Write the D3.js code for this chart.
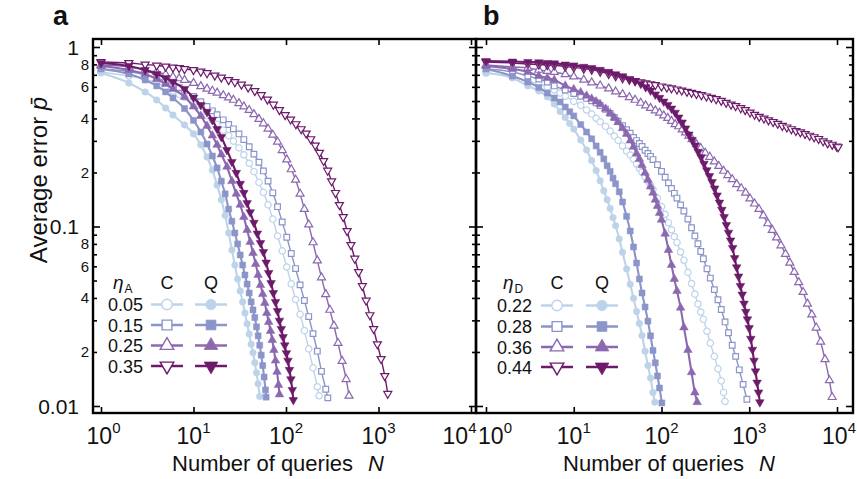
<!DOCTYPE html>
<html>
<head>
<meta charset="utf-8">
<script src="https://cdn.jsdelivr.net/npm/d3@7"></script>
<style>body{margin:0;background:#fff}</style>
</head>
<body>
<script>
// tick values
const xTicks = [1, 10, 100, 1000, 10000];
const xTickExp = ["0", "1", "2", "3", "4"];
const yMajor = [1, 0.1, 0.01];
const yMajorLabels = ["1", "0.1", "0.01"];
const yMinorLabelled = [0.8, 0.6, 0.4, 0.2, 0.08, 0.06, 0.04, 0.02];
const yMinorText = ["8", "6", "4", "2", "8", "6", "4", "2"];

// legend values
const etaA = ["0.05", "0.15", "0.25", "0.35"];
const etaD = ["0.22", "0.28", "0.36", "0.44"];

// panel a: [N, average error], classical (C) and quantum (Q)
const aC05 = [[1,.726],[2,.689],[3,.663],[4,.630],[5,.600],[6,.569],[7,.545],[8,.525],[10,.480],[12,.442],[14,.415],[16,.391],[18,.371],[21,.344],[24,.321],[27,.299],[31,.274],[35,.251],[40,.225],[45,.202],[51,.176],[57,.155],[64,.132],[72,.110],[81,.0886],[91,.0732],[102,.0595],[114,.0479],[127,.0392],[142,.0324],[158,.0263],[176,.0208],[196,.0163],[218,.0128],[228,.0114]];
const aC15 = [[1,.754],[2,.730],[3,.700],[4,.672],[5,.643],[6,.617],[7,.594],[8,.574],[10,.531],[12,.496],[14,.466],[16,.441],[18,.420],[21,.393],[24,.370],[27,.350],[31,.328],[35,.305],[40,.278],[45,.253],[51,.228],[57,.204],[64,.179],[72,.154],[81,.129],[91,.106],[102,.0871],[114,.0707],[127,.0583],[142,.0473],[158,.0387],[176,.0315],[196,.0253],[218,.0202],[242,.0156],[269,.0124],[283,.0111]];
const aC25 = [[1,.794],[2,.774],[3,.745],[4,.726],[5,.703],[6,.681],[7,.668],[8,.655],[10,.630],[12,.604],[14,.585],[16,.569],[18,.556],[21,.538],[24,.523],[27,.507],[31,.486],[35,.466],[40,.445],[45,.422],[51,.397],[57,.375],[64,.350],[72,.324],[81,.296],[91,.266],[102,.236],[114,.208],[127,.182],[142,.152],[158,.125],[176,.1025],[196,.0815],[218,.0646],[242,.0520],[269,.0419],[298,.0343],[330,.0280],[365,.0224],[404,.0178],[447,.0141],[480,.0114]];
const aC35 = [[1,.825],[2,.815],[3,.799],[4,.789],[5,.779],[6,.769],[7,.764],[8,.754],[10,.745],[12,.730],[14,.716],[17,.694],[20,.676],[24,.655],[28,.638],[33,.618],[39,.595],[46,.569],[54,.540],[63,.510],[73,.478],[85,.446],[98,.418],[112,.395],[128,.372],[146,.349],[165,.330],[185,.307],[207,.283],[230,.258],[255,.232],[282,.205],[311,.179],[343,.154],[378,.132],[416,.113],[458,.0944],[504,.0789],[554,.0663],[609,.0558],[669,.0466],[735,.0387],[807,.0321],[886,.0269],[972,.0221],[1066,.0183],[1169,.0147],[1260,.0117]];
const aQ05 = [[1,.716],[2,.630],[3,.562],[4,.507],[5,.457],[6,.418],[8,.368],[10,.328],[12,.285],[14,.244],[16,.206],[18,.170],[20,.141],[22,.115],[24,.092],[26,.074],[28,.061],[30,.051],[32,.0437],[34,.0380],[36,.0330],[38,.0287],[40,.0252],[42,.0221],[44,.0198],[46,.0174],[48,.0153],[50,.0133],[52,.0113]];
const aQ15 = [[1,.754],[2,.707],[3,.655],[4,.607],[5,.562],[6,.520],[8,.454],[10,.390],[12,.336],[14,.288],[16,.247],[18,.212],[20,.179],[22,.152],[24,.125],[26,.107],[28,.092],[30,.080],[32,.0694],[34,.0610],[36,.0537],[38,.0478],[40,.0426],[42,.0380],[44,.0343],[46,.0311],[48,.0276],[50,.0246],[52,.0218],[54,.0192],[56,.0168],[58,.0145],[60,.0123],[61,.0112]];
const aQ25 = [[1,.784],[2,.745],[3,.707],[4,.663],[5,.622],[6,.584],[8,.527],[10,.466],[12,.413],[14,.363],[16,.321],[18,.285],[20,.252],[23,.215],[26,.179],[29,.152],[32,.132],[35,.113],[38,.0956],[41,.0820],[44,.0712],[47,.0618],[50,.0537],[53,.0472],[56,.0420],[59,.0375],[62,.0330],[65,.0294],[68,.0262],[71,.0233],[74,.0205],[77,.0179],[80,.0155],[83,.0131],[85,.0116]];
const aQ35 = [[1,.815],[2,.784],[3,.745],[4,.707],[5,.672],[6,.638],[8,.584],[10,.523],[12,.475],[14,.434],[16,.392],[18,.349],[20,.315],[23,.267],[26,.229],[29,.199],[32,.173],[35,.154],[38,.135],[41,.120],[45,.105],[49,.0914],[53,.0809],[57,.0721],[61,.0630],[65,.0551],[69,.0484],[73,.0426],[77,.0380],[81,.0338],[85,.0299],[89,.0269],[93,.0242],[97,.0218],[101,.0197],[105,.0179],[109,.0159],[113,.0141],[117,.0123],[120,.0108]];

// panel b
const bC22 = [[1,.716],[2,.681],[3,.647],[4,.622],[5,.599],[6,.576],[7,.554],[8,.532],[10,.498],[12,.473],[14,.446],[16,.423],[18,.401],[20,.383],[23,.361],[26,.340],[29,.319],[32,.302],[36,.281],[40,.263],[44,.250],[48,.237],[52,.223],[56,.211],[60,.201],[65,.189],[70,.179],[75,.170],[80,.161],[90,.144],[100,.129],[110,.117],[120,.105],[130,.0959],[140,.0879],[150,.0815],[165,.0721],[180,.0649],[200,.0555],[220,.0481],[240,.0420],[260,.0370],[280,.0334],[300,.0304],[330,.0261],[360,.0224],[400,.0189],[440,.0161],[480,.0138],[510,.0119],[530,.0106]];
const bC28 = [[1,.754],[2,.726],[3,.689],[4,.663],[5,.638],[6,.607],[8,.576],[10,.551],[12,.531],[14,.517],[16,.502],[18,.488],[20,.472],[23,.450],[26,.427],[29,.405],[32,.386],[36,.365],[40,.346],[44,.331],[48,.313],[52,.301],[56,.290],[60,.279],[65,.266],[70,.255],[75,.246],[80,.236],[90,.221],[100,.203],[110,.188],[120,.175],[130,.163],[140,.153],[150,.144],[165,.132],[180,.122],[200,.110],[220,.0984],[240,.0886],[260,.0801],[280,.0726],[300,.0661],[330,.0581],[360,.0516],[400,.0445],[440,.0391],[480,.0345],[530,.0294],[580,.0256],[640,.0218],[700,.0189],[770,.0159],[850,.0132],[940,.0109]];
const bC36 = [[1,.794],[2,.774],[3,.764],[4,.745],[5,.735],[6,.726],[8,.704],[10,.684],[13,.656],[16,.634],[20,.609],[25,.587],[30,.564],[36,.545],[43,.525],[50,.507],[58,.488],[66,.472],[75,.457],[85,.443],[95,.430],[106,.415],[118,.402],[130,.387],[143,.371],[157,.361],[172,.347],[188,.334],[205,.320],[223,.306],[250,.287],[280,.273],[315,.257],[355,.244],[400,.230],[450,.217],[510,.204],[570,.193],[640,.183],[720,.172],[810,.163],[910,.154],[1020,.143],[1150,.134],[1290,.125],[1450,.115],[1630,.104],[1830,.0956],[2050,.0868],[2300,.0784],[2590,.0703],[2900,.0628],[3260,.0557],[3660,.0489],[4110,.0431],[4610,.0371],[5170,.0323],[5800,.0273],[6500,.0228],[7300,.0182],[8200,.0139],[8800,.0112]];
const bC44 = [[1,.825],[2,.815],[3,.804],[4,.799],[5,.794],[6,.791],[8,.779],[10,.770],[13,.758],[16,.748],[20,.729],[25,.708],[30,.688],[36,.671],[43,.658],[50,.648],[58,.637],[66,.629],[75,.621],[85,.614],[100,.604],[115,.596],[130,.589],[150,.581],[170,.573],[195,.564],[220,.557],[250,.548],[285,.540],[325,.531],[370,.522],[420,.513],[480,.502],[545,.490],[620,.479],[700,.469],[800,.457],[900,.446],[1020,.432],[1150,.420],[1300,.409],[1470,.400],[1660,.391],[1870,.383],[2110,.374],[2380,.364],[2680,.357],[3020,.349],[3400,.341],[3830,.335],[4320,.328],[4870,.321],[5480,.315],[6170,.308],[6950,.299],[7830,.291],[8820,.286],[9930,.279],[10300,.277]];
const bQ22 = [[1,.716],[2,.672],[3,.607],[4,.569],[5,.527],[6,.481],[7,.437],[8,.405],[9,.375],[10,.349],[12,.303],[14,.267],[16,.233],[18,.205],[20,.180],[22,.158],[24,.141],[26,.126],[28,.112],[30,.101],[33,.0852],[36,.0718],[40,.0580],[44,.0476],[48,.0398],[52,.0336],[56,.0288],[60,.0247],[65,.0202],[70,.0168],[75,.0143],[80,.0119],[84,.0105]];
const bQ28 = [[1,.754],[2,.689],[3,.638],[4,.595],[5,.554],[6,.520],[7,.494],[8,.463],[9,.436],[10,.413],[12,.370],[14,.336],[16,.308],[18,.281],[20,.259],[22,.238],[24,.218],[26,.203],[28,.186],[30,.173],[33,.156],[36,.137],[40,.114],[44,.0944],[48,.0769],[52,.0626],[56,.0510],[60,.0426],[65,.0356],[70,.0297],[75,.0246],[80,.0204],[85,.0174],[90,.0147],[95,.0126],[101,.0104]];
const bQ36 = [[1,.784],[2,.754],[3,.726],[4,.689],[5,.672],[6,.655],[8,.608],[10,.581],[12,.559],[14,.535],[16,.515],[18,.497],[20,.480],[23,.453],[26,.428],[29,.404],[32,.381],[36,.353],[40,.328],[44,.301],[48,.278],[52,.255],[56,.238],[60,.219],[65,.199],[70,.182],[75,.167],[80,.154],[85,.141],[90,.130],[95,.119],[100,.109],[110,.0911],[120,.0740],[130,.0610],[140,.0510],[150,.0437],[165,.0353],[180,.0274],[200,.0205],[220,.0154],[240,.0119],[255,.0105]];
const bQ44 = [[1,.836],[2,.830],[3,.825],[4,.822],[5,.815],[6,.811],[8,.799],[10,.790],[13,.776],[16,.764],[20,.746],[25,.727],[30,.705],[36,.688],[43,.664],[50,.646],[58,.623],[66,.597],[75,.572],[85,.544],[95,.521],[106,.497],[118,.476],[130,.454],[143,.431],[157,.405],[172,.380],[188,.352],[205,.326],[223,.304],[242,.283],[262,.261],[283,.243],[305,.224],[328,.206],[352,.191],[377,.177],[403,.163],[430,.149],[458,.136],[487,.124],[517,.113],[548,.102],[580,.0924],[613,.0837],[647,.0760],[682,.0667],[718,.0593],[755,.0527],[793,.0467],[832,.0418],[872,.0372],[913,.0335],[955,.0304],[998,.0272],[1042,.0237],[1087,.0206],[1133,.0179],[1180,.0156],[1228,.0135],[1277,.0119],[1320,.0105]];

const colors = ["#bdd3e9", "#8b95c9", "#8b68b0", "#6d1a6b"];
const shapes = [d3.symbolCircle, d3.symbolSquare, d3.symbolTriangle, d3.symbolTriangle];
const rot = [0, 0, 0, 180];
const sizeC = [32, 32, 28, 28];
const sizeQ = [34, 36, 32, 32];
const sizeLeg = [85, 95, 80, 80];

const W = 857, H = 479, yTop = 39, yBot = 413;
const font = "'Liberation Sans', Arial, Helvetica, sans-serif";

const svg = d3.select("body").append("svg")
  .attr("width", W).attr("height", H)
  .style("font-family", font);

const y = d3.scaleLog().domain([0.01, 1]).range([406, 47]);

const panels = [
  { id: "a", x0: 93, x1: 476, xr: [101, 471], shift: [2.5, 0, 0, 0, -11.5],
    C: [aC05, aC15, aC25, aC35], Q: [aQ05, aQ15, aQ25, aQ35], eta: etaA, sub: "A",
    leg: { textX: 143, cX: 167, qX: 211, etaX: 113, headY: 283, rows: [304.5, 325, 345.5, 366] },
    titleX: 278, letterX: 53 },
  { id: "b", x0: 476, x1: 853, xr: [486, 837], shift: [9, 0, 0, 0, 2],
    C: [bC22, bC28, bC36, bC44], Q: [bQ22, bQ28, bQ36, bQ44], eta: etaD, sub: "D",
    leg: { textX: 532, cX: 557, qX: 602, etaX: 503, headY: 283, rows: [305.5, 326.5, 347, 367] },
    titleX: 669, letterX: 483 }
];

const yAll = y.ticks();
const yMinor = yAll.filter(v => !yMajor.some(m => Math.abs(m - v) < 1e-9));

function drawSeries(g, data, k, kind, x) {
  const line = d3.line().x(d => x(d[0])).y(d => y(d[1])).curve(d3.curveMonotoneX);
  g.append("path").datum(data)
    .attr("d", line).attr("fill", "none")
    .attr("stroke", colors[k]).attr("stroke-width", kind === "C" ? 1.4 : 2.1);
  const sym = d3.symbol().type(shapes[k]).size(kind === "C" ? sizeC[k] : sizeQ[k]);
  g.selectAll(null).data(data).enter().append("path")
    .attr("d", sym)
    .attr("transform", d => `translate(${x(d[0])},${y(d[1])}) rotate(${rot[k]})`)
    .attr("fill", kind === "C" ? "#fff" : colors[k])
    .attr("stroke", colors[k])
    .attr("stroke-width", kind === "C" ? 1.2 : 0.5);
}

panels.forEach(p => {
  const x = d3.scaleLog().domain([1, 1e4]).range(p.xr);

  svg.append("clipPath").attr("id", "clip-" + p.id)
    .append("rect").attr("x", p.x0).attr("y", yTop)
    .attr("width", p.x1 - p.x0).attr("height", yBot - yTop);

  const g = svg.append("g").attr("clip-path", `url(#clip-${p.id})`);
  p.C.forEach((d, k) => drawSeries(g, d, k, "C", x));
  p.Q.forEach((d, k) => drawSeries(g, d, k, "Q", x));

  // ticks pointing inward, drawn with d3 axes
  const tickAxis = (axis, tx, ty) => {
    const a = svg.append("g").attr("transform", `translate(${tx},${ty})`).call(axis);
    a.select(".domain").remove();
    a.selectAll("line").attr("stroke", "#000").attr("stroke-width", 1.6);
    a.selectAll("text").remove();
  };
  tickAxis(d3.axisBottom(x).tickValues(xTicks).tickSize(6), 0, yTop);
  tickAxis(d3.axisTop(x).tickValues(xTicks).tickSize(6), 0, yBot);
  tickAxis(d3.axisRight(y).tickValues(yMajor).tickSize(7), p.x0, 0);
  tickAxis(d3.axisRight(y).tickValues(yMinor).tickSize(4), p.x0, 0);
  tickAxis(d3.axisLeft(y).tickValues(yMajor).tickSize(7), p.x1, 0);
  tickAxis(d3.axisLeft(y).tickValues(yMinor).tickSize(4), p.x1, 0);

  svg.append("rect").attr("x", p.x0).attr("y", yTop)
    .attr("width", p.x1 - p.x0).attr("height", yBot - yTop)
    .attr("fill", "none").attr("stroke", "#000").attr("stroke-width", 2.4);

  // x tick labels 10^k
  xTicks.forEach((t, i) => {
    const tx = svg.append("text")
      .attr("x", x(t) + p.shift[i]).attr("y", 444)
      .attr("text-anchor", "middle").attr("font-size", 23).attr("fill", "#111");
    tx.append("tspan").text("10");
    tx.append("tspan").attr("font-size", 15).attr("dy", -11).text(xTickExp[i]);
  });

  // x title
  const xt = svg.append("text").attr("x", p.titleX).attr("y", 471)
    .attr("text-anchor", "middle").attr("font-size", 22).attr("fill", "#111");
  xt.append("tspan").text("Number of queries");
  xt.append("tspan").attr("dx", 15).attr("font-style", "italic").text("N");

  // panel letter
  svg.append("text").attr("x", p.letterX).attr("y", 25)
    .attr("font-size", 27).attr("font-weight", "bold").attr("fill", "#111").text(p.id);

  // legend
  const L = p.leg;
  const head = svg.append("text").attr("x", L.etaX).attr("y", L.headY + 6)
    .attr("font-size", 19).attr("fill", "#111");
  head.append("tspan").attr("font-style", "italic").text("η");
  head.append("tspan").attr("font-size", 12).attr("dy", 4).attr("dx", 1).text(p.sub);
  svg.append("text").attr("x", L.cX).attr("y", L.headY + 6).attr("text-anchor", "middle")
    .attr("font-size", 18).attr("fill", "#111").text("C");
  svg.append("text").attr("x", L.qX).attr("y", L.headY + 6).attr("text-anchor", "middle")
    .attr("font-size", 18).attr("fill", "#111").text("Q");

  p.eta.forEach((e, k) => {
    const ry = L.rows[k];
    svg.append("text").attr("x", L.textX).attr("y", ry + 6.5).attr("text-anchor", "end")
      .attr("font-size", 18).attr("fill", "#111").text(e);
    [["C", L.cX], ["Q", L.qX]].forEach(([kind, cx]) => {
      svg.append("line").attr("x1", cx - 16).attr("x2", cx + 16)
        .attr("y1", ry).attr("y2", ry)
        .attr("stroke", colors[k]).attr("stroke-width", 2.5);
      svg.append("path")
        .attr("d", d3.symbol().type(shapes[k]).size(sizeLeg[k]))
        .attr("transform", `translate(${cx},${ry}) rotate(${rot[k]})`)
        .attr("fill", kind === "C" ? "#fff" : colors[k])
        .attr("stroke", colors[k]).attr("stroke-width", kind === "C" ? 1.4 : 0.8);
    });
  });
});

// y tick labels on panel a
yMajor.forEach((v, i) => {
  svg.append("text").attr("x", 79).attr("y", y(v) + 7.5).attr("text-anchor", "end")
    .attr("font-size", 21).attr("fill", "#111").text(yMajorLabels[i]);
});
yMinorLabelled.forEach((v, i) => {
  svg.append("text").attr("x", 89).attr("y", y(v) + 5.5).attr("text-anchor", "end")
    .attr("font-size", 15).attr("fill", "#111").text(yMinorText[i]);
});

// y title
const yt = svg.append("text")
  .attr("transform", "translate(47,180) rotate(-90)")
  .attr("text-anchor", "middle").attr("font-size", 24).attr("fill", "#111");
yt.append("tspan").text("Average error ");
yt.append("tspan").attr("font-style", "italic").text("p\u0304");
</script>
</body>
</html>
